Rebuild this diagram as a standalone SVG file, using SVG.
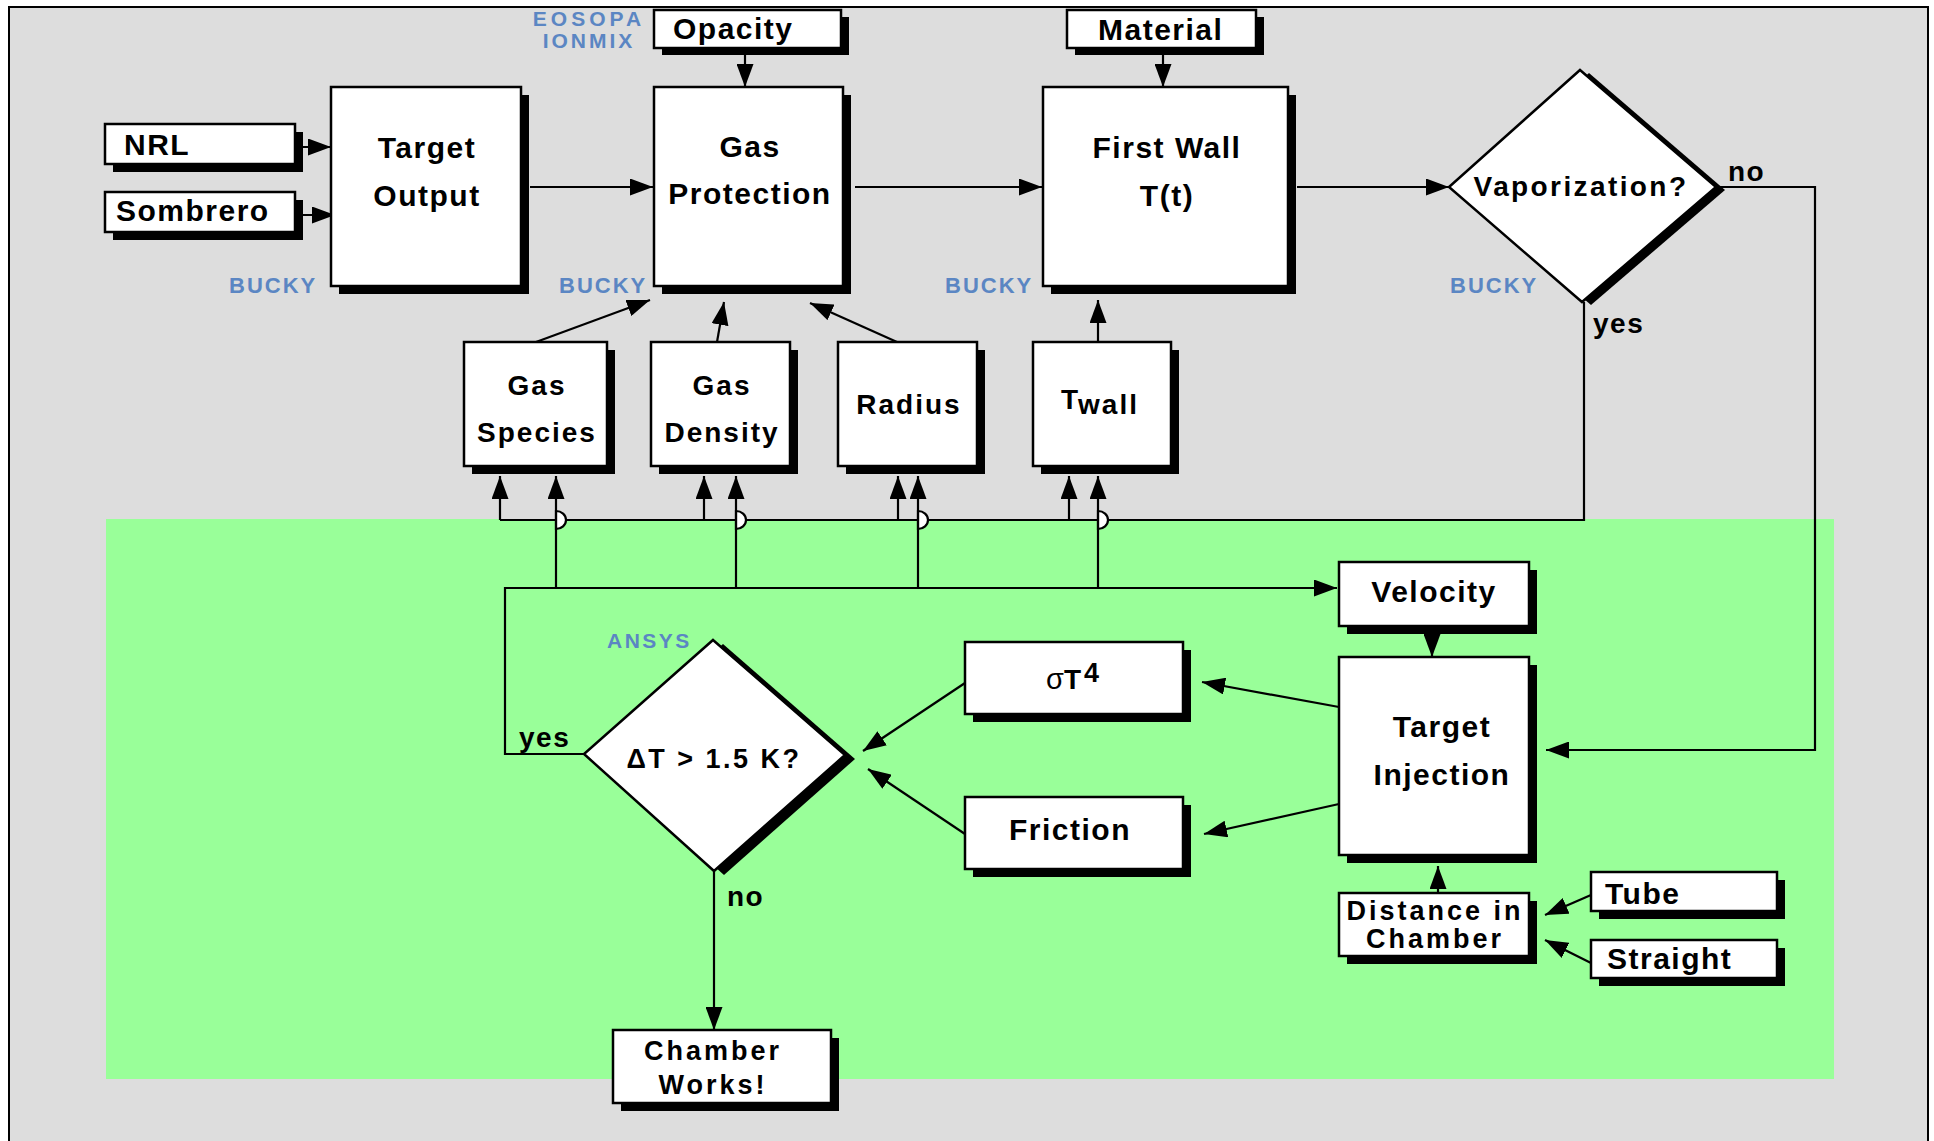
<svg xmlns="http://www.w3.org/2000/svg" width="1934" height="1141" viewBox="0 0 1934 1141">
<style>
.bx{fill:#fff;stroke:#000;stroke-width:2.5}
.sh{fill:#000}
.ln{fill:none;stroke:#000;stroke-width:2.2}
.hop{fill:#fff;stroke:#000;stroke-width:2.2}
.t{font-family:"Liberation Sans",Arial,sans-serif;font-weight:bold;font-size:30px;letter-spacing:1.5px;fill:#000}
.ts{font-family:"Liberation Sans",Arial,sans-serif;font-weight:bold;font-size:28px;letter-spacing:2px;fill:#000}
.tn{font-family:"Liberation Sans",Arial,sans-serif;font-weight:bold;font-size:27px;letter-spacing:3px;fill:#000}
.lb{font-family:"Liberation Sans",Arial,sans-serif;font-weight:bold;font-size:22px;letter-spacing:2px;fill:#5b86c3}
.m{text-anchor:middle}
</style>
<defs>
<marker id="ah" markerWidth="23" markerHeight="17" refX="23" refY="8.5" orient="auto" markerUnits="userSpaceOnUse"><path d="M0,0 L23,8.5 L0,17 z" fill="#000"/></marker>
</defs>
<rect x="9" y="7" width="1919" height="1150" fill="#dddddd" stroke="#000" stroke-width="2"/>
<rect x="106" y="519" width="1728" height="560" fill="#99ff99"/>

<g id="labels">
<text class="lb" x="589" y="26" style="font-size:21px;letter-spacing:4px" text-anchor="middle">EOSOPA</text>
<text class="lb" x="589" y="48" style="font-size:21px;letter-spacing:3px" text-anchor="middle">IONMIX</text>
<text class="lb" x="229" y="293">BUCKY</text>
<text class="lb" x="559" y="293">BUCKY</text>
<text class="lb" x="945" y="293">BUCKY</text>
<text class="lb" x="1450" y="293">BUCKY</text>
<text class="lb" x="607" y="648" style="font-size:21px;letter-spacing:2.5px">ANSYS</text>
<text class="ts" x="1728" y="181" style="letter-spacing:1.5px">no</text>
<text class="ts" x="1593" y="333" style="letter-spacing:1.5px">yes</text>
<text class="ts" x="519" y="747" style="letter-spacing:1.5px">yes</text>
<text class="ts" x="727" y="906" style="letter-spacing:1.5px">no</text>
</g>

<g id="connectors">
<line class="ln" x1="296" y1="147" x2="331" y2="147" marker-end="url(#ah)"/>
<line class="ln" x1="296" y1="215" x2="335" y2="215" marker-end="url(#ah)"/>
<line class="ln" x1="530" y1="187" x2="653" y2="187" marker-end="url(#ah)"/>
<line class="ln" x1="745" y1="55" x2="745" y2="87" marker-end="url(#ah)"/>
<line class="ln" x1="855" y1="187" x2="1042" y2="187" marker-end="url(#ah)"/>
<line class="ln" x1="1163" y1="55" x2="1163" y2="87" marker-end="url(#ah)"/>
<line class="ln" x1="1297" y1="187" x2="1449" y2="187" marker-end="url(#ah)"/>
<polyline class="ln" points="1716,187 1815,187 1815,750 1546,750" marker-end="url(#ah)"/>
<polyline class="ln" points="1584,302 1584,520 500,520"/>
<line class="ln" x1="500" y1="520" x2="500" y2="476" marker-end="url(#ah)"/>
<line class="ln" x1="704" y1="520" x2="704" y2="476" marker-end="url(#ah)"/>
<line class="ln" x1="898" y1="520" x2="898" y2="476" marker-end="url(#ah)"/>
<line class="ln" x1="1069" y1="520" x2="1069" y2="476" marker-end="url(#ah)"/>
<polyline class="ln" points="584,754 505,754 505,588 1337,588" marker-end="url(#ah)"/>
<path class="hop" d="M556,511 A10,9 0 0 1 556,529 Z M736,511 A10,9 0 0 1 736,529 Z M918,511 A10,9 0 0 1 918,529 Z M1098,511 A10,9 0 0 1 1098,529 Z"/>
<line class="ln" x1="556" y1="588" x2="556" y2="476" marker-end="url(#ah)"/>
<line class="ln" x1="736" y1="588" x2="736" y2="476" marker-end="url(#ah)"/>
<line class="ln" x1="918" y1="588" x2="918" y2="476" marker-end="url(#ah)"/>
<line class="ln" x1="1098" y1="588" x2="1098" y2="476" marker-end="url(#ah)"/>
<line class="ln" x1="536" y1="342" x2="650" y2="300" marker-end="url(#ah)"/>
<line class="ln" x1="717" y1="342" x2="724" y2="302" marker-end="url(#ah)"/>
<line class="ln" x1="897" y1="342" x2="810" y2="303" marker-end="url(#ah)"/>
<line class="ln" x1="1098" y1="342" x2="1098" y2="300" marker-end="url(#ah)"/>
<line class="ln" x1="1432" y1="633" x2="1432" y2="657" marker-end="url(#ah)"/>
<line class="ln" x1="1339" y1="707" x2="1202" y2="682" marker-end="url(#ah)"/>
<line class="ln" x1="1339" y1="804" x2="1204" y2="834" marker-end="url(#ah)"/>
<line class="ln" x1="965" y1="683" x2="863" y2="751" marker-end="url(#ah)"/>
<line class="ln" x1="965" y1="834" x2="868" y2="769" marker-end="url(#ah)"/>
<line class="ln" x1="714" y1="871" x2="714" y2="1030" marker-end="url(#ah)"/>
<line class="ln" x1="1438" y1="893" x2="1438" y2="866" marker-end="url(#ah)"/>
<line class="ln" x1="1591" y1="895" x2="1545" y2="915" marker-end="url(#ah)"/>
<line class="ln" x1="1591" y1="963" x2="1545" y2="940" marker-end="url(#ah)"/>
</g>

<g id="nrl"><rect class="sh" x="113" y="132" width="190" height="40"/><rect class="bx" x="105" y="124" width="190" height="40"/><text class="t" x="124" y="155">NRL</text></g>
<g id="sombrero"><rect class="sh" x="113" y="200" width="190" height="40"/><rect class="bx" x="105" y="192" width="190" height="40"/><text class="t" x="116" y="221">Sombrero</text></g>
<g id="target-output"><rect class="sh" x="339" y="95" width="190" height="199"/><rect class="bx" x="331" y="87" width="190" height="199"/><text class="t m" x="427" y="158">Target</text><text class="t m" x="427" y="206">Output</text></g>
<g id="opacity"><rect class="sh" x="662" y="17" width="187" height="38"/><rect class="bx" x="654" y="10" width="187" height="38"/><text class="t" x="673" y="39">Opacity</text></g>
<g id="gas-protection"><rect class="sh" x="662" y="95" width="189" height="199"/><rect class="bx" x="654" y="87" width="189" height="199"/><text class="t m" x="750" y="157">Gas</text><text class="t m" x="750" y="204">Protection</text></g>
<g id="material"><rect class="sh" x="1075" y="17" width="189" height="38"/><rect class="bx" x="1067" y="10" width="189" height="38"/><text class="t" x="1098" y="40">Material</text></g>
<g id="first-wall"><rect class="sh" x="1051" y="95" width="245" height="199"/><rect class="bx" x="1043" y="87" width="245" height="199"/><text class="t m" x="1167" y="158">First Wall</text><text class="t m" x="1167" y="206">T(t)</text></g>
<g id="vaporization"><polygon class="sh" points="1589,73 1725,190 1591,305 1458,190"/><polygon class="bx" points="1580,70 1716,187 1582,302 1449,187"/><text class="ts m" x="1581" y="196" style="letter-spacing:2.4px">Vaporization?</text></g>
<g id="gas-species"><rect class="sh" x="472" y="350" width="143" height="124"/><rect class="bx" x="464" y="342" width="143" height="124"/><text class="ts m" x="537" y="395">Gas</text><text class="ts m" x="537" y="442">Species</text></g>
<g id="gas-density"><rect class="sh" x="659" y="350" width="139" height="124"/><rect class="bx" x="651" y="342" width="139" height="124"/><text class="ts m" x="722" y="395">Gas</text><text class="ts m" x="722" y="442">Density</text></g>
<g id="radius"><rect class="sh" x="846" y="350" width="139" height="124"/><rect class="bx" x="838" y="342" width="139" height="124"/><text class="ts m" x="909" y="414">Radius</text></g>
<g id="twall"><rect class="sh" x="1041" y="350" width="138" height="124"/><rect class="bx" x="1033" y="342" width="138" height="124"/><text class="ts" x="1061" y="409">T<tspan dy="5">wall</tspan></text></g>
<g id="velocity"><rect class="sh" x="1347" y="570" width="190" height="64"/><rect class="bx" x="1339" y="562" width="190" height="64"/><text class="t m" x="1434" y="602">Velocity</text></g>
<g id="target-injection"><rect class="sh" x="1347" y="665" width="190" height="198"/><rect class="bx" x="1339" y="657" width="190" height="198"/><text class="t m" x="1442" y="737">Target</text><text class="t m" x="1442" y="785">Injection</text></g>
<g id="distance"><rect class="sh" x="1347" y="901" width="190" height="63"/><rect class="bx" x="1339" y="893" width="190" height="63"/><text class="tn m" x="1435" y="920">Distance in</text><text class="tn m" x="1435" y="948">Chamber</text></g>
<g id="tube"><rect class="sh" x="1599" y="880" width="186" height="39"/><rect class="bx" x="1591" y="872" width="186" height="39"/><text class="t" x="1605" y="904">Tube</text></g>
<g id="straight"><rect class="sh" x="1599" y="948" width="186" height="38"/><rect class="bx" x="1591" y="940" width="186" height="38"/><text class="t" x="1607" y="969">Straight</text></g>
<g id="sigma"><rect class="sh" x="973" y="650" width="218" height="72"/><rect class="bx" x="965" y="642" width="218" height="72"/><text class="ts" x="1046" y="689" style="letter-spacing:0px"><tspan style="font-weight:normal;font-size:29px">σ</tspan>T<tspan dx="3" dy="-7" style="font-size:27px">4</tspan></text></g>
<g id="friction"><rect class="sh" x="973" y="805" width="218" height="72"/><rect class="bx" x="965" y="797" width="218" height="72"/><text class="t m" x="1070" y="840">Friction</text></g>
<g id="delta-t"><polygon class="sh" points="723,644 855,759 724,875 594,758"/><polygon class="bx" points="713,640 845,755 714,871 584,754"/><text class="tn m" x="714" y="768" style="letter-spacing:2.5px">ΔT &gt; 1.5 K?</text></g>
<g id="chamber-works"><rect class="sh" x="621" y="1038" width="218" height="73"/><rect class="bx" x="613" y="1030" width="218" height="73"/><text class="tn m" x="713" y="1060">Chamber</text><text class="tn m" x="713" y="1094">Works!</text></g>
</svg>
